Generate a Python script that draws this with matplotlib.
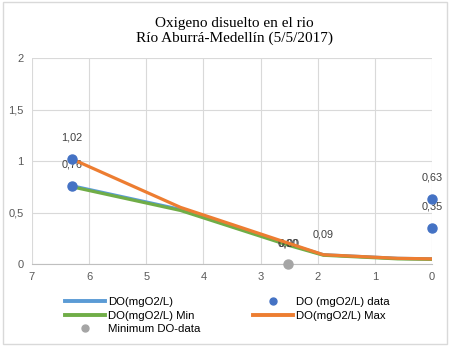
import matplotlib
matplotlib.use("Agg")
import matplotlib.pyplot as plt
from matplotlib.lines import Line2D
from matplotlib.patches import Rectangle

# Data
x_line = [6.3, 4.4, 2.5, 1.9, 0.6, 0.0]
do_mean = [0.76, 0.53, 0.19, 0.09, 0.055, 0.05]
do_min = [0.75, 0.52, 0.18, 0.085, 0.05, 0.045]
do_max = [1.02, 0.55, 0.20, 0.09, 0.055, 0.05]
data_x = [6.3, 6.3, 0.0, 0.0]
data_y = [1.02, 0.76, 0.63, 0.35]
min_x = [2.52]
min_y = [0.0]
extra_label_x = [1.9, 2.52]
extra_label_y = [0.09, 0.0]

title = "Oxigeno disuelto en el rio\nRío Aburrá-Medellín (5/5/2017)"

fig = plt.figure(figsize=(4.5, 3.46), dpi=100)
ax = fig.add_axes([0.071, 0.237, 0.889, 0.595])

c_blue = "#5B9BD5"
c_green = "#70AD47"
c_orange = "#ED7D31"
c_dot = "#4472C4"
c_grey = "#A5A5A5"
txt = "#595959"

ax.plot(x_line, do_mean, color=c_blue, lw=2.3, solid_capstyle="butt", zorder=3)
ax.plot(x_line, do_min, color=c_green, lw=2.3, solid_capstyle="butt", zorder=3)
ax.plot(x_line, do_max, color=c_orange, lw=2.3, solid_capstyle="butt", zorder=4)
ax.plot(data_x, data_y, "o", color=c_dot, ms=6.5, zorder=5, clip_on=False)
ax.plot(min_x, min_y, "o", color=c_grey, ms=6.5, zorder=5, clip_on=False)

lab_font = dict(family="Liberation Sans", fontsize=7.8, color="#404040", ha="center", va="center")
for xv, yv in zip(data_x, data_y):
    ax.annotate(f"{yv:.2f}".replace(".", ","), (xv, yv), xytext=(0, 15.5),
                textcoords="offset points", **lab_font)
for xv, yv in zip(extra_label_x, extra_label_y):
    ax.annotate(f"{yv:.2f}".replace(".", ","), (xv, yv), xytext=(0, 14.5),
                textcoords="offset points", **lab_font)
ax.annotate("0,00", (min_x[0], min_y[0]), xytext=(0.5, 14.5),
            textcoords="offset points", **lab_font)

ax.set_xlim(7, 0)
ax.set_ylim(0, 2)
ax.set_xticks(range(0, 8))
ax.set_yticks([0, 0.5, 1, 1.5, 2])
ax.set_yticklabels(["0", "0,5", "1", "1,5", "2"])
ax.grid(True, color="#D9D9D9", lw=0.8)
ax.set_axisbelow(True)
for s in ["top", "right", "left"]:
    ax.spines[s].set_visible(False)
ax.spines["bottom"].set_color("#BFBFBF")
ax.tick_params(length=0, labelsize=8, colors=txt, pad=6)
for lab in ax.get_xticklabels() + ax.get_yticklabels():
    lab.set_family("Liberation Sans")

fig.text(0.521, 0.952, title, ha="center", va="top", fontsize=11,
         family="Liberation Serif", color="#000000", linespacing=1.2)

handles = [
    Line2D([], [], color=c_blue, lw=2.8),
    Line2D([], [], color=c_green, lw=2.8),
    Line2D([], [], ls="none", marker="o", color=c_grey, ms=5),
    Line2D([], [], ls="none", marker="o", color=c_dot, ms=5),
    Line2D([], [], color=c_orange, lw=2.8),
]
labels = ["DO(mgO2/L)", "DO(mgO2/L) Min", "Minimum DO-data", "DO (mgO2/L) data", "DO(mgO2/L) Max"]
fig.legend(handles, labels, loc="upper left", bbox_to_anchor=(0.131, 0.157), ncol=2,
           frameon=False, handlelength=3.5, handletextpad=0.3, columnspacing=4.6,
           labelspacing=0.3, prop=dict(family="Liberation Sans", size=8.2), borderpad=0,
           labelcolor="#000000")

fig.patches.append(Rectangle((0.006, 0.006), 0.988, 0.988, transform=fig.transFigure,
                             fill=False, edgecolor="#D9D9D9", lw=1.0))

fig.savefig("out.png", dpi=100, facecolor="white")
